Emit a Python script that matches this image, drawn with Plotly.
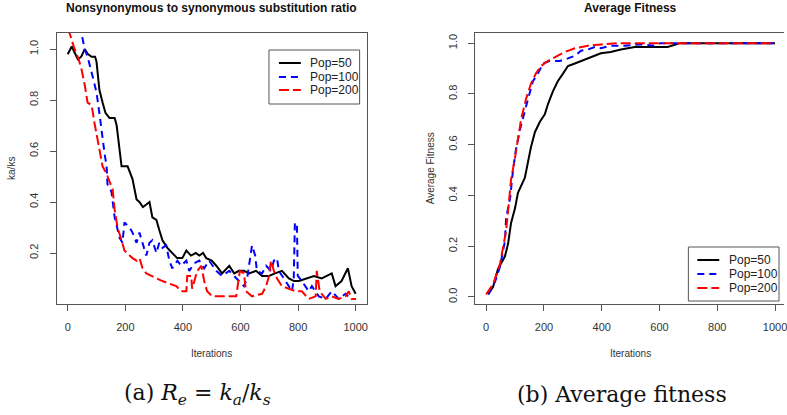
import plotly.graph_objects as go

W, H = 787, 415

# ---------------- data: left panel (ka/ks) ----------------
iter_ka50 = [0, 14, 35, 47, 59, 70, 83, 95, 100, 110,
             121, 131, 145, 163, 170, 180, 187, 197, 208, 225,
             239, 249, 261, 273, 284, 294, 308, 318, 329, 346,
             363, 380, 398, 412, 428, 445, 457, 470, 481, 500,
             516, 536, 561, 578, 595, 612, 630, 654, 675, 699,
             720, 744, 768, 786, 803, 827, 855, 882, 900, 917,
             930, 951, 973, 986, 1000]
ka50 = [0.98, 1.01, 0.96, 0.97, 1.00, 0.98, 0.97, 0.97, 0.95, 0.84,
        0.79, 0.75, 0.73, 0.73, 0.70, 0.60, 0.54, 0.54, 0.54, 0.49,
        0.41, 0.40, 0.38, 0.39, 0.40, 0.34, 0.33, 0.29, 0.25, 0.22,
        0.20, 0.18, 0.18, 0.21, 0.19, 0.20, 0.19, 0.20, 0.18, 0.17,
        0.15, 0.12, 0.15, 0.12, 0.13, 0.13, 0.12, 0.13, 0.11, 0.11,
        0.12, 0.13, 0.10, 0.09, 0.09, 0.10, 0.11, 0.10, 0.11, 0.12,
        0.07, 0.09, 0.14, 0.07, 0.04]

iter_ka100 = [0, 48, 59, 69, 87, 100, 111, 118, 128, 135,
              138, 152, 163, 180, 190, 197, 215, 225, 239, 249,
              260, 273, 284, 294, 308, 318, 329, 342, 353, 363,
              381, 394, 412, 422, 440, 457, 474, 491, 516, 536,
              561, 578, 595, 612, 623, 636, 640, 651, 657, 675,
              689, 706, 716, 727, 733, 751, 768, 779, 785, 789,
              796, 799, 813, 837, 848, 872, 896, 917, 941, 965,
              983, 1000]
ka100 = [1.12, 1.06, 1.00, 0.97, 0.89, 0.83, 0.74, 0.67, 0.59, 0.54,
         0.47, 0.44, 0.34, 0.26, 0.24, 0.32, 0.30, 0.28, 0.24, 0.28,
         0.24, 0.19, 0.24, 0.25, 0.20, 0.24, 0.22, 0.23, 0.17, 0.14,
         0.17, 0.15, 0.17, 0.13, 0.16, 0.17, 0.14, 0.17, 0.13, 0.11,
         0.13, 0.11, 0.09, 0.07, 0.10, 0.19, 0.23, 0.19, 0.13, 0.12,
         0.15, 0.13, 0.17, 0.18, 0.13, 0.10, 0.07, 0.05, 0.10, 0.32,
         0.31, 0.11, 0.09, 0.05, 0.07, 0.03, 0.02, 0.05, 0.02, 0.04,
         0.02, 0.02]

iter_ka200 = [0, 7, 21, 31, 38, 48, 59, 69, 83, 93,
              104, 111, 121, 135, 145, 156, 163, 173, 187, 197,
              215, 225, 239, 249, 260, 273, 291, 308, 329, 353,
              377, 394, 412, 415, 429, 432, 450, 464, 474, 484,
              502, 550, 585, 598, 612, 619, 640, 675, 689, 699,
              706, 716, 727, 744, 768, 792, 813, 837, 861, 865,
              875, 896, 917, 941, 965, 976, 986, 1000]
ka200 = [1.08, 1.06, 1.01, 0.98, 0.96, 0.92, 0.86, 0.79, 0.78, 0.71,
         0.64, 0.59, 0.54, 0.51, 0.48, 0.45, 0.37, 0.30, 0.25, 0.21,
         0.19, 0.18, 0.17, 0.18, 0.14, 0.12, 0.11, 0.10, 0.09, 0.08,
         0.07, 0.05, 0.05, 0.11, 0.11, 0.06, 0.13, 0.15, 0.09, 0.05,
         0.03, 0.03, 0.03, 0.13, 0.12, 0.05, 0.03, 0.04, 0.07, 0.11,
         0.17, 0.13, 0.10, 0.07, 0.06, 0.05, 0.05, 0.02, 0.03, 0.13,
         0.05, 0.02, 0.03, 0.02, 0.03, 0.05, 0.02, 0.02]

# ---------------- data: right panel (average fitness) ----------------
iter_fit50 = [7, 24, 41, 65, 76, 86, 100, 110, 134, 145,
              155, 169, 186, 203, 214, 231, 248, 266, 283, 307,
              328, 352, 376, 397, 431, 466, 514, 569, 628, 672,
              700, 1000]
fit50 = [0.01, 0.04, 0.11, 0.16, 0.21, 0.29, 0.35, 0.41, 0.47, 0.53,
         0.59, 0.65, 0.69, 0.72, 0.76, 0.81, 0.85, 0.88, 0.91, 0.92,
         0.93, 0.94, 0.95, 0.96, 0.965, 0.975, 0.985, 0.985, 0.985, 1.0,
         1.0, 1.0]

iter_fit100 = [7, 31, 48, 59, 65, 69, 83, 93, 103, 117,
               128, 145, 162, 179, 197, 221, 238, 255, 283, 307,
               328, 352, 376, 397, 431, 479, 534, 583, 603, 700,
               1000]
fit100 = [0.01, 0.06, 0.12, 0.18, 0.22, 0.31, 0.39, 0.50, 0.58, 0.66,
          0.71, 0.78, 0.85, 0.88, 0.92, 0.93, 0.93, 0.93, 0.94, 0.95,
          0.97, 0.975, 0.985, 0.98, 0.99, 0.99, 0.995, 0.99, 1.0, 1.0,
          1.0]

iter_fit200 = [0, 24, 48, 59, 69, 76, 86, 100, 110, 121,
               138, 155, 172, 190, 214, 238, 272, 307, 352, 397,
               455, 700, 1000]
fit200 = [0.01, 0.05, 0.13, 0.20, 0.26, 0.34, 0.46, 0.55, 0.63, 0.70,
          0.78, 0.84, 0.88, 0.91, 0.93, 0.945, 0.965, 0.98, 0.99, 0.995,
          1.0, 1.0, 1.0]

series_names = ["Pop=50", "Pop=100", "Pop=200"]
x_ticks = [0, 200, 400, 600, 800, 1000]
y_ticks_left = [0.2, 0.4, 0.6, 0.8, 1.0]
y_ticks_right = [0.0, 0.2, 0.4, 0.6, 0.8, 1.0]

# ---------------- styles ----------------
COLORS = ["#000000", "#0000ff", "#ff0000"]
DASHES = ["solid", "7px,5px", "10px,4px"]
LW = 2
FONT = "Liberation Sans, Arial, sans-serif"
SERIF = "DejaVu Serif, Liberation Serif, serif"
AX = "#555555"


def fx(p):
    return p / W


def fy(p):
    return 1 - p / H


fig = go.Figure()

left = [(iter_ka50, ka50), (iter_ka100, ka100), (iter_ka200, ka200)]
right = [(iter_fit50, fit50), (iter_fit100, fit100), (iter_fit200, fit200)]

for i, (xs, ys) in enumerate(left):
    fig.add_trace(go.Scatter(x=xs, y=ys, mode="lines", name=series_names[i],
                             line=dict(color=COLORS[i], width=LW, dash=DASHES[i]),
                             xaxis="x", yaxis="y", showlegend=False))
for i, (xs, ys) in enumerate(right):
    fig.add_trace(go.Scatter(x=xs, y=ys, mode="lines", name=series_names[i],
                             line=dict(color=COLORS[i], width=LW, dash=DASHES[i]),
                             xaxis="x2", yaxis="y2", showlegend=False))

ydom = [fy(304), fy(33)]
common_x = dict(tickvals=x_ticks, ticktext=[str(v) for v in x_ticks],
                ticks="outside", ticklen=6, tickwidth=1, tickcolor=AX,
                showline=True, linecolor=AX, linewidth=1, showgrid=False,
                zeroline=False, ticklabelstandoff=7, ticklabeloverflow="allow",
                tickfont=dict(family=FONT, size=11, color="#333333"))
common_y = dict(ticks="outside", ticklen=6, tickwidth=1, tickcolor=AX,
                showline=True, linecolor=AX, linewidth=1, showgrid=False,
                zeroline=False, tickangle=-90, ticklabelstandoff=7,
                tickfont=dict(family=FONT, size=11, color="#333333"))

fig.update_layout(
    width=W, height=H,
    margin=dict(l=0, r=0, t=0, b=0),
    paper_bgcolor="white", plot_bgcolor="white",
    font=dict(family=FONT, color="#222222"),
    xaxis=dict(domain=[fx(57), fx(368)], range=[-38, 1038], mirror=True,
               anchor="y", **common_x),
    yaxis=dict(domain=ydom, range=[0.0, 1.063], mirror=True, anchor="x",
               tickvals=y_ticks_left, ticktext=["%.1f" % v for v in y_ticks_left],
               **common_y),
    xaxis2=dict(domain=[fx(477), 1.0], range=[-38, 1031], mirror=True,
                anchor="y2", **common_x),
    yaxis2=dict(domain=ydom, range=[-0.028, 1.04], mirror=False, anchor="x2",
                tickvals=y_ticks_right, ticktext=["%.1f" % v for v in y_ticks_right],
                **common_y),
    showlegend=False,
)

ann = []
# titles
ann.append(dict(text="<b>Nonsynonymous to synonymous substitution ratio</b>",
                x=fx(212), y=fy(8), font=dict(size=12, family=FONT, color="#111111")))
ann.append(dict(text="<b>Average Fitness</b>", x=fx(633), y=fy(8),
                font=dict(size=12, family=FONT, color="#111111")))
# axis titles
ann.append(dict(text="Iterations", x=fx(212), y=fy(353),
                font=dict(size=10, family=FONT, color="#333333")))
ann.append(dict(text="Iterations", x=fx(633), y=fy(353),
                font=dict(size=10, family=FONT, color="#333333")))
ann.append(dict(text="ka/ks", x=fx(11), y=fy(168), textangle=-90,
                font=dict(size=10, family=FONT, color="#333333")))
ann.append(dict(text="Average Fitness", x=fx(432), y=fy(168), textangle=-90,
                font=dict(size=10, family=FONT, color="#333333")))
# captions
ann.append(dict(text="(a) <i>R</i><sub><i>e</i></sub> = <i>k</i><sub><i>a</i></sub>/<i>k</i><sub><i>s</i></sub>",
                x=fx(198), y=fy(394), font=dict(size=22, family=SERIF, color="#111111")))
ann.append(dict(text="(b) Average fitness", x=fx(624), y=fy(394),
                font=dict(size=22, family=SERIF, color="#111111")))

shapes = []


def legend_box(x0, y0, x1, y1, rows_y, lx0, lx1, tx):
    shapes.append(dict(type="rect", xref="paper", yref="paper",
                       x0=fx(x0), x1=fx(x1), y0=fy(y1), y1=fy(y0),
                       line=dict(color=AX, width=1), fillcolor="white"))
    for i, ry in enumerate(rows_y):
        shapes.append(dict(type="line", xref="paper", yref="paper",
                           x0=fx(lx0), x1=fx(lx1), y0=fy(ry), y1=fy(ry),
                           line=dict(color=COLORS[i], width=LW, dash=DASHES[i])))
        ann.append(dict(text=series_names[i], x=fx(tx), y=fy(ry), xanchor="left",
                        font=dict(size=12, family=FONT, color="#222222")))


legend_box(270, 50, 361, 104, [63, 77, 90], 280, 302, 309)
legend_box(691, 247, 782, 301, [260, 274, 288], 700, 722, 730)

for a in ann:
    a.setdefault("xref", "paper")
    a.setdefault("yref", "paper")
    a.setdefault("showarrow", False)
    a.setdefault("xanchor", "center")
    a.setdefault("yanchor", "middle")

fig.update_layout(annotations=ann, shapes=shapes)
fig.write_html("out.html", config={"displayModeBar": False},
               post_script="document.body.style.margin='0';document.body.style.overflow='hidden';")
